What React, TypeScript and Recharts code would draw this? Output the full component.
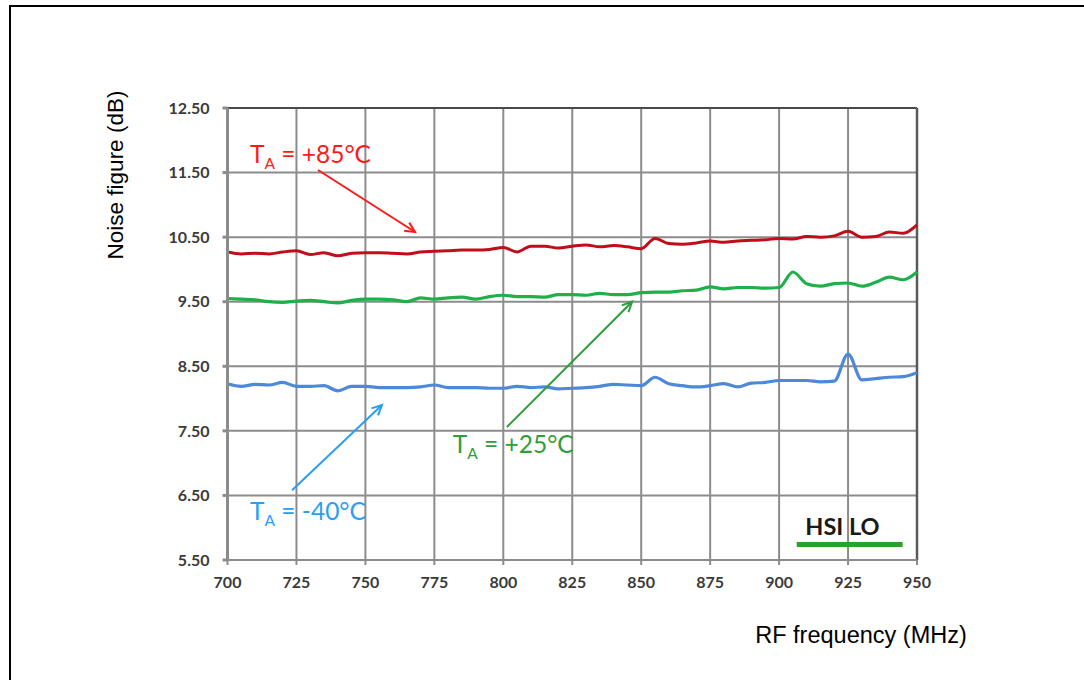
import React from 'react';
import { LineChart, Line, XAxis, YAxis, CartesianGrid, ReferenceLine, ReferenceDot } from 'recharts';

const freqs = [700, 705, 710, 715, 720, 725, 730, 735, 740, 745, 750, 755, 760, 765, 770, 775, 780, 785, 790, 795, 800, 805, 810, 815, 820, 825, 830, 835, 840, 845, 850, 855, 860, 865, 870, 875, 880, 885, 890, 895, 900, 905, 910, 915, 920, 925, 930, 935, 940, 945, 950];

const nf85 = [10.27, 10.24, 10.25, 10.24, 10.27, 10.29, 10.23, 10.26, 10.21, 10.25, 10.26, 10.26, 10.25, 10.24, 10.27, 10.28, 10.29, 10.30, 10.30, 10.31, 10.34, 10.27, 10.36, 10.36, 10.33, 10.36, 10.38, 10.35, 10.37, 10.35, 10.32, 10.48, 10.40, 10.39, 10.41, 10.44, 10.42, 10.44, 10.45, 10.46, 10.48, 10.47, 10.51, 10.50, 10.52, 10.59, 10.50, 10.51, 10.58, 10.56, 10.69];

const nf25 = [9.55, 9.54, 9.53, 9.50, 9.49, 9.51, 9.52, 9.50, 9.48, 9.52, 9.54, 9.54, 9.53, 9.50, 9.56, 9.54, 9.56, 9.57, 9.54, 9.58, 9.60, 9.58, 9.58, 9.57, 9.61, 9.61, 9.60, 9.63, 9.61, 9.61, 9.64, 9.65, 9.65, 9.67, 9.68, 9.73, 9.70, 9.72, 9.72, 9.71, 9.72, 9.96, 9.78, 9.74, 9.78, 9.79, 9.74, 9.80, 9.88, 9.84, 9.96];

const nfm40 = [8.23, 8.19, 8.22, 8.21, 8.25, 8.19, 8.19, 8.20, 8.12, 8.19, 8.19, 8.17, 8.17, 8.17, 8.18, 8.21, 8.17, 8.17, 8.17, 8.16, 8.16, 8.19, 8.17, 8.18, 8.15, 8.16, 8.17, 8.19, 8.22, 8.21, 8.20, 8.33, 8.23, 8.20, 8.18, 8.20, 8.23, 8.18, 8.24, 8.25, 8.28, 8.28, 8.28, 8.26, 8.27, 8.69, 8.29, 8.31, 8.33, 8.34, 8.40];

const xTicks = [700, 725, 750, 775, 800, 825, 850, 875, 900, 925, 950];
const yTicks = [5.5, 6.5, 7.5, 8.5, 9.5, 10.5, 11.5, 12.5];

const seriesLabels = ['+85°C', '+25°C', '-40°C'];
const legendLabel = 'HSI LO';

const data = freqs.map((f, i) => ({ f, t85: nf85[i], t25: nf25[i], tm40: nfm40[i] }));

// annotation placement (data coordinates)
const annotations = [
  { label: seriesLabels[0], color: '#ff1a1a', tx: 708.2, ty: 11.65, a: [{ x: 732.8, y: 11.54 }, { x: 768.0, y: 10.58 }] },
  { label: seriesLabels[1], color: '#2e9e3a', tx: 781.7, ty: 7.16, a: [{ x: 801.3, y: 7.56 }, { x: 846.7, y: 9.5 }] },
  { label: seriesLabels[2], color: '#2a9df4', tx: 708.2, ty: 6.12, a: [{ x: 723.4, y: 6.58 }, { x: 756.0, y: 7.9 }] },
];

const makeArrow = (color: string) => (p: any) => {
  const { x1, y1, x2, y2 } = p;
  const ang = Math.atan2(y2 - y1, x2 - x1);
  const L = 11;
  const s = Math.PI / 7;
  const ax = x2 - L * Math.cos(ang - s);
  const ay = y2 - L * Math.sin(ang - s);
  const bx = x2 - L * Math.cos(ang + s);
  const by = y2 - L * Math.sin(ang + s);
  return (
    <g>
      <line x1={x1} y1={y1} x2={x2} y2={y2} stroke={color} strokeWidth={2} />
      <polyline points={`${ax},${ay} ${x2},${y2} ${bx},${by}`} fill="none" stroke={color} strokeWidth={2} />
    </g>
  );
};

const makeLabel = (label: string, color: string) => (p: any) => (
  <text x={p.cx} y={p.cy} fill={color} fontFamily="Lato, 'Open Sans', sans-serif" fontSize={24.5}>
    <tspan>T</tspan>
    <tspan dy={6} fontSize={15.5}>A</tspan>
    <tspan dy={-6}>{` = ${label}`}</tspan>
  </text>
);

const legendText = (p: any) => (
  <text x={p.cx} y={p.cy} fill="#1a1a1a" fontFamily="Lato, 'Open Sans', sans-serif" fontWeight={700} fontSize={23.5}>
    {legendLabel}
  </text>
);

const legendBar = (p: any) => (
  <line x1={p.x1} y1={p.y1} x2={p.x2} y2={p.y2} stroke="#2ca02c" strokeWidth={5} />
);

const tickFont = { fontFamily: "Lato, 'Open Sans', sans-serif", fontWeight: 700, fontSize: 16, fill: '#3a3a3a' };

export default function App() {
  return (
    <div style={{ position: 'absolute', left: 0, top: 0, width: 1084, height: 680, overflow: 'hidden', background: '#fff' }}>
      <div style={{ position: 'absolute', left: 9, top: 5, width: 1100, height: 700, borderLeft: '2.5px solid #000', borderTop: '2.5px solid #000' }} />
      <div style={{ position: 'absolute', left: 0, top: 0 }}>
        <LineChart width={1084} height={680} data={data} margin={{ top: 108, right: 167, bottom: 90, left: 167.5 }}>
          <CartesianGrid stroke="#8c8c8c" strokeWidth={2} />
          <XAxis
            dataKey="f"
            type="number"
            domain={[700, 950]}
            ticks={xTicks}
            height={30}
            tickSize={5}
            tickMargin={12}
            stroke="#8c8c8c"
            strokeWidth={2}
            tick={tickFont}
            interval={0}
          />
          <YAxis
            type="number"
            domain={[5.5, 12.5]}
            ticks={yTicks}
            width={60}
            tickSize={5}
            tickMargin={13}
            stroke="#8c8c8c"
            strokeWidth={3}
            tick={tickFont}
            tickFormatter={(v: number) => v.toFixed(2)}
            interval={0}
          />
          <ReferenceLine y={12.5} stroke="#4a4a4a" strokeWidth={2} />
          <ReferenceLine x={950} stroke="#5a5a5a" strokeWidth={2.5} />
          <Line dataKey="t85" type="monotone" stroke="#c00d1a" strokeWidth={3} dot={false} isAnimationActive={false} />
          <Line dataKey="t25" type="monotone" stroke="#1fb04a" strokeWidth={3.2} dot={false} isAnimationActive={false} />
          <Line dataKey="tm40" type="monotone" stroke="#4d88da" strokeWidth={3.2} dot={false} isAnimationActive={false} />
          {annotations.map((a, i) => (
            <ReferenceLine key={'a' + i} segment={a.a} shape={makeArrow(a.color)} />
          ))}
          {annotations.map((a, i) => (
            <ReferenceDot key={'t' + i} x={a.tx} y={a.ty} r={0} shape={makeLabel(a.label, a.color)} />
          ))}
          <ReferenceDot x={909.5} y={5.89} r={0} shape={legendText} />
          <ReferenceLine segment={[{ x: 906.4, y: 5.74 }, { x: 944.8, y: 5.74 }]} shape={legendBar} />
        </LineChart>
      </div>
      <div style={{ position: 'absolute', left: 0, top: 0, width: 1084, height: 680, pointerEvents: 'none' }}>
        <svg width={1084} height={680}>
          <text x={123} y={175} transform="rotate(-90 123 175)" textAnchor="middle" fontFamily="'Liberation Sans', Arial, sans-serif" fontSize={22.5} fill="#000">
            Noise figure (dB)
          </text>
          <text x={861} y={643} textAnchor="middle" fontFamily="'Liberation Sans', Arial, sans-serif" fontSize={23.5} fill="#000">
            RF frequency (MHz)
          </text>
        </svg>
      </div>
    </div>
  );
}
